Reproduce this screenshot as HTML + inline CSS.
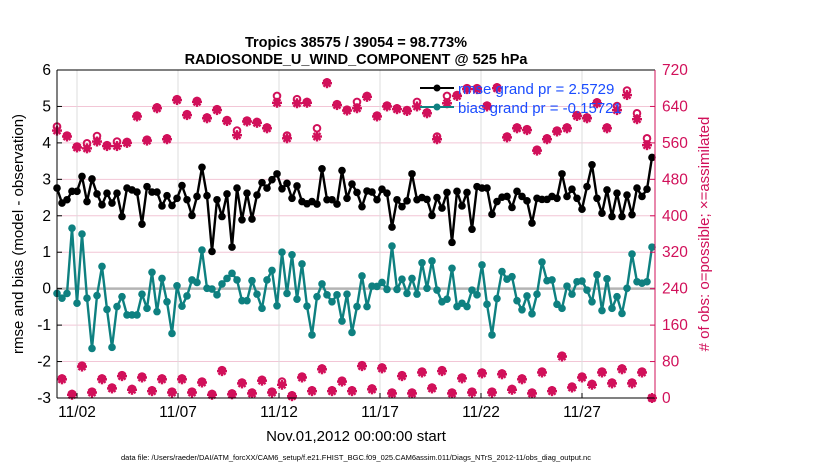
<!DOCTYPE html>
<html><head><meta charset="utf-8"><style>
body{margin:0;background:#fff;}
svg text{font-family:"Liberation Sans",sans-serif;}
</style></head><body>
<svg id="chart" width="830" height="470" viewBox="0 0 830 470" xmlns="http://www.w3.org/2000/svg">
<rect x="0" y="0" width="830" height="470" fill="#fff"/>
<g id="grid"></g>
<g id="marks"></g>
<g id="axes"></g>
<text x="356" y="47" text-anchor="middle" font-size="14.5" font-weight="bold">Tropics 38575 / 39054 = 98.773%</text>
<text x="356" y="64" text-anchor="middle" font-size="14.5" font-weight="bold">RADIOSONDE_U_WIND_COMPONENT @ 525 hPa</text>
<text x="356" y="441" text-anchor="middle" font-size="15">Nov.01,2012 00:00:00 start</text>
<text transform="translate(23,234) rotate(-90)" text-anchor="middle" font-size="15">rmse and bias (model - observation)</text>
<text transform="translate(709,234) rotate(-90)" text-anchor="middle" font-size="15" fill="#d1105a"># of obs: o=possible; ×=assimilated</text>
<text x="356" y="460" text-anchor="middle" font-size="7.5">data file: /Users/raeder/DAI/ATM_forcXX/CAM6_setup/f.e21.FHIST_BGC.f09_025.CAM6assim.011/Diags_NTrS_2012-11/obs_diag_output.nc</text>
<g id="legend">
<line x1="420" y1="88" x2="454" y2="88" stroke="#000" stroke-width="2"/><circle cx="437" cy="88" r="3.5" fill="#000"/>
<text x="458" y="94" font-size="15" fill="#1a4cff">rmse grand pr = 2.5729</text>
<line x1="420" y1="107" x2="454" y2="107" stroke="#0e8080" stroke-width="2"/><circle cx="437" cy="107" r="3.5" fill="#0e8080"/>
<text x="458" y="113" font-size="15" fill="#1a4cff">bias grand pr = -0.15721</text>
</g>
</svg>
<script>
const rmse=[2.76,2.35,2.44,2.67,2.67,3.08,2.39,3.01,2.60,2.30,2.62,2.35,2.62,1.98,2.76,2.71,2.65,1.77,2.80,2.65,2.65,2.27,2.55,2.28,2.48,2.83,2.44,2.01,2.53,3.33,2.55,1.02,2.44,1.98,2.60,1.14,2.76,1.89,2.62,1.91,2.57,2.91,
2.76,2.99,3.15,2.74,2.89,2.48,2.82,2.39,2.33,2.39,2.32,3.29,2.44,2.44,2.32,3.24,2.48,2.87,2.64,2.25,2.68,2.65,2.44,2.73,2.62,1.69,2.44,2.25,2.41,3.15,2.44,2.50,2.45,2.01,2.50,2.21,2.64,1.27,2.67,2.27,
2.64,1.63,2.80,2.76,2.76,2.04,2.39,2.51,2.53,2.23,2.67,2.53,2.41,1.80,2.48,2.45,2.45,2.53,2.48,3.15,2.53,2.73,2.48,2.18,2.80,3.40,2.48,2.07,2.71,1.98,2.62,1.98,2.57,2.03,2.76,2.53,2.73,3.60];
const bias=[-0.13,-0.26,-0.13,1.66,-0.40,1.50,-0.26,-1.64,-0.19,0.61,-0.57,-1.61,-0.49,-0.22,-0.72,-0.72,-0.72,-0.15,-0.54,0.45,-0.63,0.28,-0.36,-1.23,0.08,-0.48,-0.20,0.24,0.17,1.06,0.01,-0.01,-0.17,0.13,0.28,0.42,0.24,-0.33,-0.33,0.22,-0.15,-0.54,
0.24,0.50,-0.47,1.00,-0.13,0.93,-0.29,0.68,-0.48,-1.27,-0.22,0.13,-0.17,-0.36,-0.17,-0.89,-0.15,-1.20,-0.49,0.35,-0.49,0.07,0.06,0.17,-0.02,1.17,-0.02,0.26,-0.13,0.28,-0.15,0.71,0.01,0.76,-0.04,-0.36,-0.29,0.56,-0.49,-0.40,
-0.49,-0.04,-0.17,0.65,-0.43,-1.27,-0.27,0.47,0.26,0.33,-0.33,-0.58,-0.20,-0.69,-0.15,0.73,0.22,0.24,-0.43,-0.54,0.07,-0.15,0.19,0.21,-0.04,-0.36,0.38,-0.60,0.27,-0.54,-0.22,-0.68,0.01,0.95,0.19,0.15,0.19,1.14];
const obsAssim=[587,41,574,7,550,69,548,12,563,41,553,21,553,48,560,18,618,45,565,15,636,41,568,12,654,41,621,12,650,34,614,7,632,59,608,8,577,32,607,10,604,38,
592,12,648,29,570,4,647,45,648,15,574,63,691,15,643,36,631,15,636,70,661,19,618,65,640,10,634,48,630,10,640,56,625,21,568,59,647,10,663,43,
678,12,678,54,640,12,680,52,572,18,592,41,588,10,543,56,568,15,585,91,592,23,619,45,614,29,647,56,592,32,632,63,665,32,612,56,555,0];
const obsPoss=[596,43,576,9,552,71,559,14,575,43,555,23,563,50,562,20,620,47,567,17,638,43,570,14,656,43,623,14,652,36,616,9,634,61,610,10,587,34,609,12,606,40,
594,14,663,36,576,6,656,47,650,17,592,65,693,17,645,38,633,17,650,72,663,21,620,67,642,12,636,50,632,12,650,58,627,23,574,61,663,12,665,45,
680,14,680,56,642,14,682,54,574,20,594,43,590,12,545,58,570,17,587,93,594,25,621,47,616,31,649,58,594,34,641,65,675,34,625,58,570,0];
const yTicks=[-3,-2,-1,0,1,2,3,4,5,6];
const rTicks=[0,80,160,240,320,400,480,560,640,720];
const dayTicks=[1,6,11,16,21,26];
const dayLabels=["11/02","11/07","11/12","11/17","11/22","11/27"];

const L=57,R=655,T=70,B=398;
const y=v=>B-(v+3)*(B-T)/9;
const yr=v=>B-v*(B-T)/720;
const xi=i=>57+i*(652-57)/(rmse.length-1);
const xd=d=>56.8+d*20.2;
const NS="http://www.w3.org/2000/svg";
function mk(parent,tag,attrs){const e=document.createElementNS(NS,tag);for(const k in attrs)e.setAttribute(k,attrs[k]);parent.appendChild(e);return e;}
const grid=document.getElementById('grid'),marks=document.getElementById('marks'),axes=document.getElementById('axes');

yTicks.forEach(v=>{
 if(v>-3&&v<6){const g=mk(grid,'line',{x1:L,x2:R,y1:y(v),y2:y(v),stroke:'#f2c6d6','stroke-width':1});
 
 }
 mk(axes,'line',{x1:L,x2:L+5,y1:y(v),y2:y(v),stroke:'#000'});
 const t=mk(axes,'text',{x:L-6,y:y(v)+5,'text-anchor':'end','font-size':15.5});t.textContent=v;
 
 
});
rTicks.forEach(v=>{
 mk(axes,'line',{x1:R-5,x2:R,y1:yr(v),y2:yr(v),stroke:'#d1105a'});
 const t=mk(axes,'text',{x:R+7,y:yr(v)+5,'font-size':15.5,fill:'#d1105a'});t.textContent=v;
 
 
});
dayTicks.forEach((d,k)=>{
 const g=mk(grid,'line',{x1:xd(d),x2:xd(d),y1:T,y2:B,stroke:'#dcdcdc','stroke-width':1});
 
 
 mk(axes,'line',{x1:xd(d),x2:xd(d),y1:B,y2:B-5,stroke:'#000'});
 const t=mk(axes,'text',{x:xd(d),y:417,'text-anchor':'middle','font-size':15.5});t.textContent=dayLabels[k];
 
 
});
const zl=mk(marks,'line',{x1:L,x2:R,y1:y(0),y2:y(0),stroke:'#b4b4b4','stroke-width':2.5});



obsAssim.forEach((v,i)=>{
 const cx=xi(i),cy=yr(v);
 const g=mk(marks,'g',{stroke:'#d1105a','stroke-width':2.4,fill:'none'});
 
 
 const r=5;
 mk(g,'line',{x1:cx-r,x2:cx+r,y1:cy,y2:cy});
 mk(g,'line',{x1:cx,x2:cx,y1:cy-r,y2:cy+r});
 mk(g,'line',{x1:cx-3.5,x2:cx+3.5,y1:cy-3.5,y2:cy+3.5});
 mk(g,'line',{x1:cx-3.5,x2:cx+3.5,y1:cy+3.5,y2:cy-3.5});
 mk(g,'circle',{cx:cx,cy:cy,r:2.5,fill:'#d1105a',stroke:'none'});
});
obsPoss.forEach((v,i)=>{
 const c=mk(marks,'circle',{cx:xi(i),cy:yr(v),r:3.3,stroke:'#d1105a','stroke-width':2,fill:'none'});
 
 
});
function series(arr,color,name){
 const p=mk(marks,'polyline',{points:arr.map((v,i)=>xi(i)+','+y(v)).join(' '),fill:'none',stroke:color,'stroke-width':2.4,'stroke-linejoin':'round'});
 
 
 arr.forEach((v,i)=>{
  const c=mk(marks,'circle',{cx:xi(i),cy:y(v),r:3.8,fill:color});
  
  
 });
}
series(bias,'#0e8080','bias');
series(rmse,'#000','rmse');

mk(axes,'line',{x1:L,x2:L,y1:T,y2:B,stroke:'#000','stroke-width':1});
mk(axes,'line',{x1:L,x2:R,y1:T,y2:T,stroke:'#000','stroke-width':1});
mk(axes,'line',{x1:L,x2:R,y1:B,y2:B,stroke:'#000','stroke-width':1});
mk(axes,'line',{x1:R,x2:R,y1:T,y2:B,stroke:'#d1105a','stroke-width':1});
</script>
</body></html>
